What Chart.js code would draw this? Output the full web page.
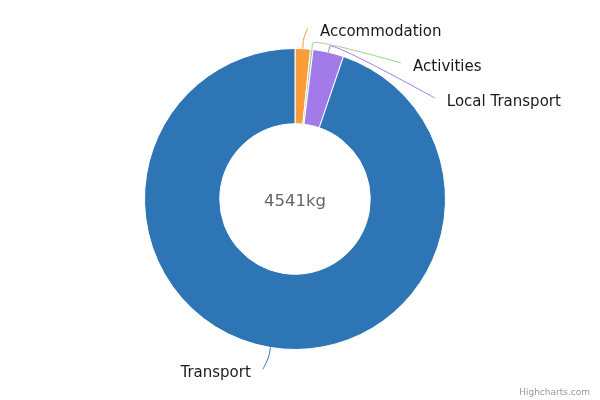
<!DOCTYPE html>
<html>
<head>
<meta charset="utf-8">
<script src="https://cdn.jsdelivr.net/npm/chart.js@4"></script>
<style>
    body { margin: 0; background: #fff; }
    canvas { display: block; }
</style>
</head>
<body>
<canvas id="chart" width="600" height="400"></canvas>
<script>
'use strict';

// footprint per category, kg CO2
const categories = ['Accommodation', 'Activities', 'Local Transport', 'Transport'];
const footprintKg = [75, 12, 150, 4304];
const sliceColors = ['#fa9c38', '#9dd08a', '#a37ae9', '#2e75b6'];

const total = footprintKg.reduce((a, b) => a + b, 0);
const centerLabel = total + 'kg';

// Highcharts-style outside labels with soft connectors
const pieLabels = {
    id: 'pieLabels',
    afterDatasetsDraw(chart) {
        const ctx = chart.ctx;
        const arcs = chart.getDatasetMeta(0).data;
        if (!arcs.length) return;

        const cx = arcs[0].x;
        const cy = arcs[0].y;
        const r = arcs[0].outerRadius;
        const R = r + 22;
        const slot = 35;
        const topLimit = 28;

        const items = arcs.map((arc, i) => {
            const a = (arc.startAngle + arc.endAngle) / 2;
            return {
                i,
                a,
                right: Math.cos(a) >= 0,
                ny: cy + Math.sin(a) * R
            };
        });

        [true, false].forEach(side => {
            const half = items.filter(it => it.right === side).sort((p, q) => p.ny - q.ny);
            let prev = -Infinity;
            half.forEach(it => {
                it.y = Math.max(it.ny, prev + slot, topLimit);
                prev = it.y;
            });
        });

        const getX = (y, right) => {
            const dy = Math.min(Math.abs(y - cy), R);
            return cx + (right ? 1 : -1) * Math.sqrt(R * R - dy * dy);
        };

        ctx.save();
        items.forEach(it => {
            const useNatural = it.y < cy - r + 2 || it.y > cy + r - 2;
            // labels pushed above the pie get a bit of extra room
            const nudge = useNatural ? (it.right ? 4 : -4) : 0;
            const x = (useNatural ? getX(it.ny, it.right) : getX(it.y, it.right)) + nudge;
            const y = it.y;
            const tx = cx + Math.cos(it.a) * r;
            const ty = cy + Math.sin(it.a) * r;
            const bx = cx + Math.cos(it.a) * (r + 6);
            const by = cy + Math.sin(it.a) * (r + 6);

            ctx.beginPath();
            ctx.moveTo(x, y);
            ctx.bezierCurveTo(x, y, 2 * bx - tx, 2 * by - ty, bx, by);
            ctx.lineTo(tx, ty);
            ctx.strokeStyle = sliceColors[it.i];
            ctx.lineWidth = 1;
            ctx.stroke();

            ctx.font = '15px "DejaVu Sans", sans-serif';
            ctx.fillStyle = '#1a1a1a';
            ctx.textBaseline = 'middle';
            ctx.textAlign = it.right ? 'left' : 'right';
            ctx.fillText(categories[it.i], x + (it.right ? 12 : -12), y + 4);
        });

        // total in the hole
        ctx.font = '16.5px "DejaVu Sans", sans-serif';
        ctx.fillStyle = '#666666';
        ctx.textAlign = 'center';
        ctx.textBaseline = 'middle';
        ctx.fillText(centerLabel, cx, cy + 3);

        // credits
        ctx.font = '9px "DejaVu Sans", sans-serif';
        ctx.fillStyle = '#999999';
        ctx.textAlign = 'right';
        ctx.textBaseline = 'alphabetic';
        ctx.fillText('Highcharts.com', 590, 395);
        ctx.restore();
    }
};

new Chart(document.getElementById('chart'), {
    type: 'doughnut',
    data: {
        labels: categories,
        datasets: [{
            data: footprintKg,
            backgroundColor: sliceColors,
            borderColor: '#ffffff',
            borderWidth: 1
        }]
    },
    options: {
        responsive: false,
        animation: false,
        cutout: '50%',
        layout: { padding: { top: 48, bottom: 50, left: 0, right: 10 } },
        plugins: {
            legend: { display: false },
            tooltip: { enabled: false }
        }
    },
    plugins: [pieLabels]
});
</script>
</body>
</html>
